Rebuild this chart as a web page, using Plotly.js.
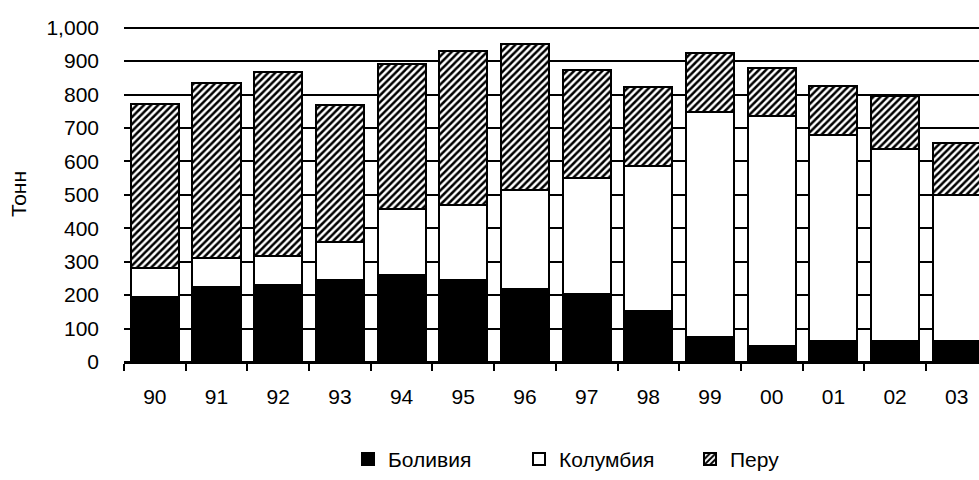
<!DOCTYPE html>
<html>
<head>
<meta charset="utf-8">
<script src="https://cdn.plot.ly/plotly-3.0.1.min.js"></script>
<style>html,body{margin:0;padding:0;background:#fff;}#chart{width:979px;height:480px;}</style>
</head>
<body>
<div id="chart"></div>
<script>
const years = ["90","91","92","93","94","95","96","97","98","99","00","01","02","03"];
const bolivia  = [195, 224, 230, 244, 260, 245, 219, 202, 153, 74, 47, 63, 63, 63];
const colombia = [86, 87, 86, 116, 197, 224, 296, 348, 434, 674, 690, 615, 574, 437];
const peru     = [492, 523, 552, 410, 434, 461, 435, 324, 237, 177, 142, 148, 160, 154];
const seriesNames = ["Боливия", "Колумбия", "Перу"];

const font = {family: "Liberation Sans, Arial, sans-serif", size: 21, color: "#000"};
const line = {color: "#000", width: 2};

const traces = [
  {type: "bar", name: seriesNames[0], x: years, y: bolivia,
   marker: {color: "#000", line: line}},
  {type: "bar", name: seriesNames[1], x: years, y: colombia,
   marker: {color: "#fff", line: line}},
  {type: "bar", name: seriesNames[2], x: years, y: peru,
   marker: {color: "#fff", line: line,
            pattern: {shape: "/", fgcolor: "#000", bgcolor: "#fff", size: 5, solidity: 0.5}}}
];

const layout = {
  width: 979, height: 480,
  margin: {l: 124, r: 0, t: 26, b: 115},
  paper_bgcolor: "#fff", plot_bgcolor: "#fff",
  font: font,
  barmode: "stack",
  bargap: 0.22,
  showlegend: true,
  legend: {orientation: "h", x: 0.262, xanchor: "left", y: -0.29, yanchor: "middle",
           font: font, traceorder: "normal", entrywidth: 126, entrywidthmode: "pixels"},
  xaxis: {type: "category", range: [-0.5, 13.36], showgrid: false,
          ticks: "outside", tickson: "boundaries", ticklen: 7, tickwidth: 2, tickcolor: "#000",
          showline: true, linecolor: "#000", linewidth: 2,
          ticklabelstandoff: 15, tickfont: font, automargin: false},
  yaxis: {range: [0, 1005], tickvals: [0,100,200,300,400,500,600,700,800,900,1000],
          tickformat: ",", showgrid: true, gridcolor: "#000", gridwidth: 2,
          zeroline: true, zerolinecolor: "#000", zerolinewidth: 3,
          showline: false, ticks: "", ticklabelstandoff: 24, tickfont: font,
          automargin: false,
          title: {text: "Тонн", font: font, standoff: 14}}
};

Plotly.newPlot("chart", traces, layout, {displayModeBar: false, staticPlot: true});
</script>
</body>
</html>
